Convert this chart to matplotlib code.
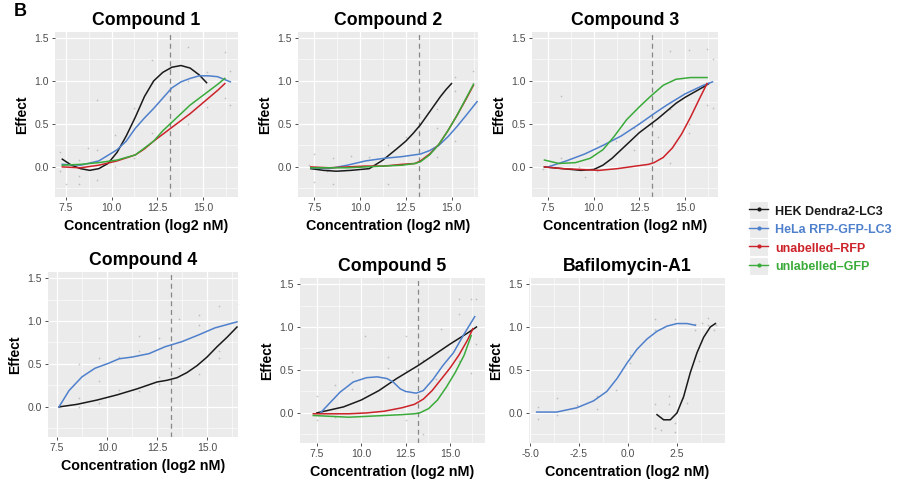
#!/usr/bin/env python

import numpy as np
import matplotlib
matplotlib.use('Agg')
import matplotlib.pyplot as plt
import matplotlib as mpl
from matplotlib.lines import Line2D
from matplotlib.patches import Rectangle
from matplotlib.legend_handler import HandlerLine2D
from matplotlib.ticker import MultipleLocator

mpl.rcParams['font.family'] = ['Liberation Sans', 'DejaVu Sans']
mpl.rcParams['axes.unicode_minus'] = False

# series names and colours
series = ['HEK Dendra2-LC3', 'HeLa RFP-GFP-LC3', 'unabelled\u2013RFP', 'unlabelled\u2013GFP']
colors = ['#1a1a1a', '#4f80cc', '#cc2229', '#3aab3a']
titles = ['Compound 1', 'Compound 2', 'Compound 3', 'Compound 4', 'Compound 5', 'Bafilomycin-A1']
ref_line = 13.2  # dashed reference concentration (log2 nM)

# ---- Compound 1 ----
c1_hek_x = [7.3, 7.8, 8.3, 8.8, 9.3, 9.8, 10.3, 10.8, 11.3, 11.8, 12.3, 12.8, 13.3, 13.8, 14.3, 14.8, 15.2]
c1_hek_y = [0.09, 0.02, -0.02, -0.04, -0.02, 0.04, 0.17, 0.36, 0.58, 0.82, 1.0, 1.1, 1.16, 1.18, 1.15, 1.07, 0.98]
c1_hela_x = [7.3, 8.3, 9.3, 10.3, 10.8, 11.3, 11.8, 12.3, 12.8, 13.3, 13.8, 14.3, 14.8, 15.3, 15.8, 16.5]
c1_hela_y = [0.03, 0.02, 0.07, 0.2, 0.3, 0.45, 0.57, 0.68, 0.8, 0.92, 0.99, 1.03, 1.06, 1.06, 1.05, 0.99]
c1_rfp_x = [7.3, 8.3, 9.3, 10.3, 11.3, 11.8, 12.3, 12.8, 13.3, 13.8, 14.3, 14.8, 15.3, 15.8, 16.2]
c1_rfp_y = [0.0, -0.01, 0.02, 0.07, 0.14, 0.21, 0.3, 0.38, 0.46, 0.54, 0.62, 0.71, 0.8, 0.89, 0.97]
c1_gfp_x = [7.3, 8.3, 9.3, 10.3, 11.3, 11.8, 12.3, 12.8, 13.3, 13.8, 14.3, 14.8, 15.3, 15.8, 16.2]
c1_gfp_y = [0.02, 0.03, 0.05, 0.08, 0.14, 0.22, 0.3, 0.42, 0.52, 0.62, 0.72, 0.8, 0.88, 0.96, 1.03]
c1_pts_x = [7.2, 7.2, 7.5, 8.2, 8.2, 8.2, 8.7, 9.2, 9.2, 9.2, 10.2, 10.2, 11.2, 11.2, 12.2, 12.2, 12.2,
            13.2, 13.2, 14.2, 14.2, 14.2, 15.2, 15.2, 16.2, 16.2, 16.5, 16.5]
c1_pts_y = [0.17, -0.05, -0.2, 0.08, -0.1, -0.2, 0.22, 0.78, 0.2, -0.15, 0.37, 0.0, 0.68, 0.1, 1.24, 0.98, 0.4,
            1.14, 0.9, 1.4, 1.0, 0.5, 1.1, 0.7, 1.34, 0.8, 0.72, 1.12]

# ---- Compound 2 ----
c2_hek_x = [7.3, 8.0, 8.7, 9.5, 10.5, 11.25, 12.0, 12.5, 12.9, 13.3, 13.6, 14.0, 14.4, 14.7, 15.0]
c2_hek_y = [-0.02, -0.04, -0.05, -0.04, -0.02, 0.08, 0.21, 0.3, 0.39, 0.49, 0.58, 0.7, 0.82, 0.9, 0.97]
c2_hela_x = [7.3, 8.3, 9.3, 10.3, 11.3, 12.3, 13.3, 13.8, 14.3, 14.8, 15.3, 15.8, 16.4]
c2_hela_y = [-0.01, -0.02, 0.02, 0.07, 0.1, 0.12, 0.15, 0.19, 0.25, 0.35, 0.47, 0.6, 0.76]
c2_rfp_x = [7.3, 8.3, 9.3, 10.3, 11.3, 12.3, 13.0, 13.3, 13.8, 14.3, 14.8, 15.3, 15.8, 16.2]
c2_rfp_y = [0.0, -0.01, 0.0, 0.01, 0.01, 0.03, 0.04, 0.07, 0.15, 0.26, 0.42, 0.6, 0.79, 0.95]
c2_gfp_x = [7.3, 8.3, 9.3, 10.3, 11.3, 12.3, 13.0, 13.3, 13.8, 14.3, 14.8, 15.3, 15.8, 16.2]
c2_gfp_y = [-0.01, -0.01, -0.01, 0.0, 0.01, 0.02, 0.04, 0.06, 0.14, 0.26, 0.42, 0.6, 0.8, 0.96]
c2_pts_x = [7.2, 7.5, 7.5, 8.2, 8.5, 8.5, 9.5, 10.5, 11.5, 11.5, 12.5, 13.2, 14.2, 14.2, 14.2, 15.2, 15.2,
            15.2, 16.2, 16.2, 16.5, 16.5]
c2_pts_y = [0.02, -0.18, 0.15, -0.05, -0.2, 0.1, 0.13, 0.12, 0.25, -0.2, 0.35, 0.4, 0.67, 0.45, 0.12, 1.05, 0.88,
            0.3, 1.12, 0.98, 0.48, 0.93]

# ---- Compound 3 ----
c3_hek_x = [7.3, 8.3, 9.3, 10.0, 10.5, 11.0, 11.5, 12.0, 12.5, 13.0, 13.5, 14.0, 14.5, 15.0, 15.5, 16.0, 16.3]
c3_hek_y = [0.0, -0.02, -0.04, -0.03, 0.02, 0.1, 0.2, 0.3, 0.4, 0.48, 0.56, 0.65, 0.74, 0.81, 0.87, 0.93, 0.97]
c3_hela_x = [7.5, 8.5, 9.5, 10.5, 11.5, 12.5, 13.3, 14.0, 15.0, 16.0, 16.5]
c3_hela_y = [0.0, 0.07, 0.15, 0.25, 0.36, 0.5, 0.62, 0.72, 0.85, 0.95, 0.99]
c3_rfp_x = [7.3, 8.3, 9.3, 10.3, 11.3, 12.3, 13.0, 13.3, 13.8, 14.3, 14.8, 15.3, 15.8, 16.2]
c3_rfp_y = [0.0, -0.02, -0.03, -0.04, -0.02, 0.01, 0.03, 0.05, 0.11, 0.22, 0.38, 0.58, 0.8, 0.97]
c3_gfp_x = [7.3, 8.1, 9.0, 9.8, 10.5, 11.1, 11.8, 12.5, 13.1, 13.8, 14.5, 15.3, 15.8, 16.2]
c3_gfp_y = [0.08, 0.04, 0.05, 0.1, 0.2, 0.35, 0.55, 0.7, 0.82, 0.95, 1.02, 1.04, 1.04, 1.04]
c3_pts_x = [7.2, 8.2, 8.2, 9.2, 9.5, 10.2, 10.2, 11.2, 12.2, 12.2, 13.2, 13.5, 14.2, 14.2, 14.2, 15.2, 15.2,
            15.2, 16.2, 16.2, 16.5, 16.5]
c3_pts_y = [-0.03, 0.83, 0.1, 0.0, -0.12, 0.3, -0.05, 0.3, 0.45, 0.2, 0.52, 0.35, 1.35, 0.67, 0.05, 1.36, 0.5,
            0.4, 1.37, 0.72, 1.25, 0.68]

# ---- Compound 4 ----
c4_hek_x = [7.6, 8.5, 9.5, 10.5, 11.5, 12.5, 13.0, 13.5, 14.0, 14.5, 15.0, 15.5, 16.0, 16.5]
c4_hek_y = [0.0, 0.03, 0.08, 0.14, 0.21, 0.29, 0.31, 0.34, 0.4, 0.48, 0.58, 0.7, 0.81, 0.93]
c4_hela_x = [7.6, 8.1, 8.75, 9.4, 10.1, 10.6, 11.25, 12.1, 12.9, 13.75, 14.6, 15.4, 16.5]
c4_hela_y = [0.0, 0.19, 0.35, 0.45, 0.51, 0.56, 0.58, 0.62, 0.7, 0.76, 0.84, 0.92, 0.99]
c4_pts_x = [7.6, 8.6, 8.6, 8.6, 9.6, 9.6, 9.6, 10.6, 10.6, 11.6, 11.6, 11.6, 12.6, 12.6, 12.6, 13.6, 13.6,
            14.6, 14.6, 14.6, 15.6, 15.6, 15.6, 16.6, 16.6]
c4_pts_y = [0.0, 0.5, 0.1, 0.0, 0.57, 0.3, 0.05, 0.58, 0.2, 0.82, 0.65, 0.18, 0.8, 0.35, 0.27, 1.02, 0.45,
            1.07, 0.95, 0.38, 1.18, 0.65, 0.57, 1.2, 0.88]

# ---- Compound 5 ----
c5_hek_x = [7.5, 9.0, 10.0, 11.0, 12.0, 13.2, 14.0, 15.0, 16.0, 16.5]
c5_hek_y = [0.0, 0.07, 0.15, 0.26, 0.4, 0.55, 0.66, 0.8, 0.93, 1.0]
c5_hela_x = [7.7, 8.25, 8.8, 9.55, 10.3, 10.9, 11.45, 11.8, 12.2, 12.5, 13.1, 13.5, 14.05, 14.6, 15.2, 15.75, 16.4]
c5_hela_y = [0.0, 0.12, 0.24, 0.36, 0.41, 0.42, 0.4, 0.36, 0.28, 0.25, 0.23, 0.26, 0.39, 0.55, 0.7, 0.9, 1.12]
c5_rfp_x = [7.3, 8.3, 9.3, 10.3, 11.3, 12.3, 13.0, 13.5, 14.0, 14.5, 15.0, 15.5, 16.0, 16.3]
c5_rfp_y = [-0.01, -0.01, -0.01, 0.0, 0.02, 0.06, 0.1, 0.16, 0.26, 0.39, 0.52, 0.67, 0.85, 0.98]
c5_gfp_x = [7.3, 8.3, 9.3, 10.3, 11.3, 12.3, 13.0, 13.3, 13.8, 14.3, 14.8, 15.3, 15.8, 16.2]
c5_gfp_y = [-0.03, -0.04, -0.05, -0.04, -0.03, -0.02, -0.01, 0.0, 0.05, 0.15, 0.3, 0.47, 0.67, 0.9]
c5_pts_x = [7.5, 7.5, 8.5, 8.5, 9.5, 9.5, 10.2, 10.2, 11.5, 11.5, 12.5, 12.5, 12.5, 13.5, 13.5, 14.2, 14.5,
            15.5, 15.5, 15.5, 16.2, 16.2, 16.5, 16.5]
c5_pts_y = [0.2, -0.08, 0.32, -0.05, 0.48, 0.28, 0.9, 0.25, 0.65, 0.52, 0.9, 0.5, -0.08, 0.62, -0.25, 0.4, 0.98,
            1.33, 1.15, 0.6, 1.32, 0.47, 1.33, 0.8]

# ---- Bafilomycin-A1 ----
c6_hek_x = [1.48, 1.82, 2.16, 2.5, 2.84, 3.18, 3.52, 3.86, 4.2, 4.46]
c6_hek_y = [-0.02, -0.08, -0.08, 0.0, 0.19, 0.47, 0.7, 0.88, 1.0, 1.04]
c6_hela_x = [-4.66, -3.64, -2.61, -1.76, -1.08, -0.56, -0.05, 0.46, 0.97, 1.48, 1.99, 2.5, 3.01, 3.44]
c6_hela_y = [0.01, 0.01, 0.06, 0.14, 0.25, 0.4, 0.58, 0.74, 0.86, 0.95, 1.01, 1.04, 1.04, 1.02]
c6_pts_x = [-4.6, -4.6, -3.6, -3.6, -2.6, -1.6, -1.6, -0.6, 0.1, 0.1, 1.4, 1.4, 1.4, 1.4, 1.7, 2.1, 2.1,
            2.4, 2.4, 2.4, 2.8, 3.0, 3.4, 3.4, 3.6, 3.8, 4.1, 4.1, 4.4, 4.5]
c6_pts_y = [0.07, -0.07, 0.17, -0.02, 0.09, 0.2, 0.05, 0.27, 0.67, 0.58, 1.09, 0.97, 0.1, -0.18, -0.2, 0.2, 0.1,
            1.09, -0.12, -0.22, 0.17, 0.12, 1.04, 0.96, 0.6, 1.05, 1.1, 1.02, 0.97, 1.02]

# curves per panel: (series index, x, y)
panel_curves = [
    [(0, c1_hek_x, c1_hek_y), (1, c1_hela_x, c1_hela_y), (2, c1_rfp_x, c1_rfp_y), (3, c1_gfp_x, c1_gfp_y)],
    [(0, c2_hek_x, c2_hek_y), (1, c2_hela_x, c2_hela_y), (2, c2_rfp_x, c2_rfp_y), (3, c2_gfp_x, c2_gfp_y)],
    [(0, c3_hek_x, c3_hek_y), (1, c3_hela_x, c3_hela_y), (2, c3_rfp_x, c3_rfp_y), (3, c3_gfp_x, c3_gfp_y)],
    [(0, c4_hek_x, c4_hek_y), (1, c4_hela_x, c4_hela_y)],
    [(0, c5_hek_x, c5_hek_y), (1, c5_hela_x, c5_hela_y), (2, c5_rfp_x, c5_rfp_y), (3, c5_gfp_x, c5_gfp_y)],
    [(0, c6_hek_x, c6_hek_y), (1, c6_hela_x, c6_hela_y)],
]
panel_pts = [(c1_pts_x, c1_pts_y), (c2_pts_x, c2_pts_y), (c3_pts_x, c3_pts_y),
             (c4_pts_x, c4_pts_y), (c5_pts_x, c5_pts_y), (c6_pts_x, c6_pts_y)]

# layout (pixels: left, top, right, bottom) and x limits
W, H = 911.0, 484.0
boxes_px = [(55, 32, 238, 197), (298, 32, 478, 197), (532, 32, 718, 197),
            (48, 272, 238, 437), (300, 278, 485, 443), (529, 278, 725, 443)]
xlims = [(6.9, 16.92), (6.6, 16.45), (6.62, 16.8), (7.05, 16.55), (6.55, 16.98), (-5.05, 4.95)]

fig = plt.figure(figsize=(W / 100, H / 100), dpi=100)

for i in range(6):
    l, t, r, b = boxes_px[i]
    ax = fig.add_axes([l / W, 1 - b / H, (r - l) / W, (b - t) / H])
    ax.set_facecolor('#EBEBEB')
    for s in ax.spines.values():
        s.set_visible(False)
    ax.set_xlim(*xlims[i])
    ax.set_ylim(-0.35, 1.57)
    if i == 5:
        ax.set_xticks([-5.0, -2.5, 0.0, 2.5])
        ax.set_xticks([-3.75, -1.25, 1.25, 3.75], minor=True)
    else:
        ax.set_xticks([7.5, 10.0, 12.5, 15.0])
        ax.set_xticks([8.75, 11.25, 13.75, 16.25], minor=True)
    ax.set_yticks([0.0, 0.5, 1.0, 1.5])
    ax.set_yticks([-0.25, 0.25, 0.75, 1.25], minor=True)
    ax.xaxis.set_major_formatter(mpl.ticker.FormatStrFormatter('%.1f'))
    ax.yaxis.set_major_formatter(mpl.ticker.FormatStrFormatter('%.1f'))
    ax.grid(which='major', color='white', lw=0.9)
    ax.grid(which='minor', color='white', lw=0.4)
    ax.set_axisbelow(True)
    ax.tick_params(which='major', length=2.5, width=0.6, color='#333333',
                   labelsize=7.5, labelcolor='#4D4D4D', pad=2)
    ax.tick_params(which='minor', length=0)

    px, py = panel_pts[i]
    ax.scatter(px, py, s=1.5, color='#888888', alpha=0.45, lw=0, zorder=2)

    if i != 5:
        ax.axvline(ref_line, color='#888888', lw=0.9, ls=(0, (4, 3)), zorder=2)

    for k, x, y in panel_curves[i]:
        ax.plot(x, y, color=colors[k], lw=1.1, zorder=3)

    ax.set_title(titles[i], fontsize=12.7, fontweight='bold', pad=5)
    ax.set_xlabel('Concentration (log2 nM)', fontsize=10.3, fontweight='bold', labelpad=4)
    ax.set_ylabel('Effect', fontsize=10, fontweight='bold', labelpad=4)

fig.text(14 / W, 1 - 12 / H, 'B', fontsize=13, fontweight='bold', ha='left', va='center')


class KeyHandler(HandlerLine2D):
    def create_artists(self, legend, orig_handle, xdescent, ydescent, width, height, fontsize, trans):
        arts = super().create_artists(legend, orig_handle, xdescent, ydescent, width, height, fontsize, trans)
        bg = Rectangle((-xdescent, -ydescent - 2), width, height + 4, facecolor='#EBEBEB',
                       edgecolor='white', lw=0.8, transform=trans)
        return [bg] + arts


handles = [Line2D([], [], color=c, lw=1.0, marker='o', markersize=2) for c in colors]
leg = fig.legend(handles, series, loc='upper left', bbox_to_anchor=(743 / W, 1 - 198 / H),
                 frameon=False, handlelength=1.5, handleheight=1.1, handletextpad=0.55,
                 labelspacing=0.42, numpoints=1, borderpad=0,
                 handler_map={Line2D: KeyHandler()}, prop={'weight': 'bold', 'size': 9})
for txt, c in zip(leg.get_texts(), colors):
    txt.set_color(c)

fig.savefig('out.png', dpi=100)
